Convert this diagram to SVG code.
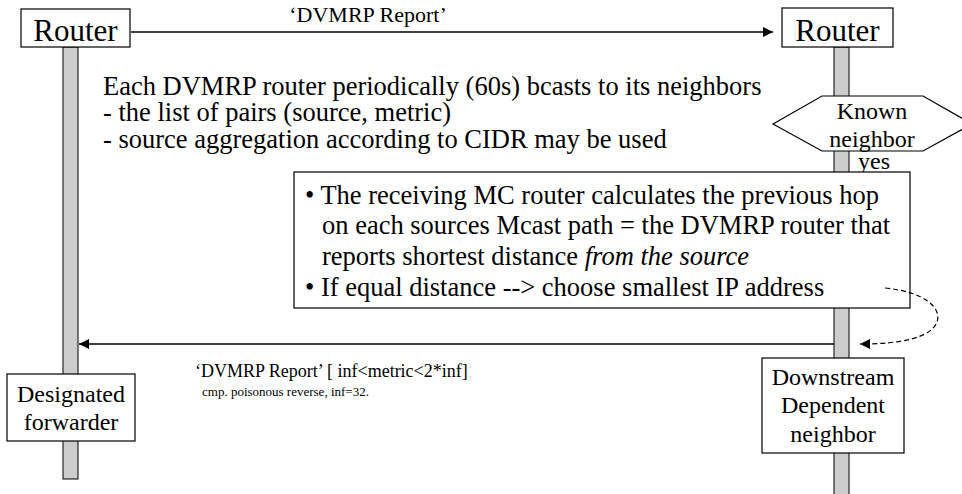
<svg xmlns="http://www.w3.org/2000/svg" width="962" height="494" viewBox="0 0 962 494">
  <style>
    text { font-family: "Liberation Serif", "Times New Roman", serif; fill: #000; }
    .box { fill: #fff; stroke: #000; stroke-width: 1.2; }
    .bar { fill: #cccccc; stroke: #000; stroke-width: 1; }
    .line { stroke: #000; stroke-width: 1.5; fill: none; }
    .dash { stroke: #000; stroke-width: 1.2; fill: none; stroke-dasharray: 5 3; }
  </style>
  <defs>
    <marker id="arrow" viewBox="0 0 10 10" refX="10" refY="5" markerWidth="10" markerHeight="10" markerUnits="userSpaceOnUse" orient="auto">
      <path d="M0,0 L10,5 L0,10 z" fill="#000"/>
    </marker>
  </defs>

  <!-- lifelines -->
  <g id="lifelines">
    <rect class="bar" x="63" y="47" width="15" height="432"/>
    <rect class="bar" x="834" y="47" width="15" height="460"/>
  </g>

  <g id="router-left">
    <rect class="box" x="21" y="9" width="109" height="38"/>
    <text x="75.5" y="41" font-size="31" text-anchor="middle">Router</text>
  </g>

  <g id="router-right">
    <rect class="box" x="782" y="8" width="111" height="39"/>
    <text x="837.5" y="41" font-size="31" text-anchor="middle">Router</text>
  </g>

  <text x="368" y="22" font-size="22" text-anchor="middle">‘DVMRP Report’</text>

  <g id="description">
    <text x="103" y="95" font-size="26.5">Each DVMRP router periodically (60s) bcasts to its neighbors</text>
    <text x="103" y="121" font-size="26.5">- the list of pairs (source, metric)</text>
    <text x="103" y="148" font-size="26.5">- source aggregation according to CIDR may be used</text>
  </g>

  <g id="known-neighbor">
    <polygon class="box" points="773,124 822,96 923,96 972,124 923,151 822,151"/>
    <text x="872" y="119" font-size="24" text-anchor="middle">Known</text>
    <text x="872" y="147" font-size="24" text-anchor="middle">neighbor</text>
    <text x="874" y="169" font-size="24" text-anchor="middle">yes</text>
  </g>

  <g id="previous-hop-note">
    <rect class="box" x="294" y="172" width="616" height="136"/>
    <text x="305" y="204" font-size="26.5">• The receiving MC router calculates the previous hop</text>
    <text x="322" y="234" font-size="26.5">on each sources Mcast path = the DVMRP router that</text>
    <text x="322" y="265" font-size="26.5">reports shortest distance <tspan font-style="italic">from the source</tspan></text>
    <text x="305" y="296" font-size="26.5">• If equal distance --&gt; choose smallest IP address</text>
  </g>

  <g id="report-label">
    <text x="195" y="377" font-size="18">‘DVMRP Report’ [ inf&lt;metric&lt;2*inf]</text>
    <text x="202" y="396" font-size="13">cmp. poisonous reverse, inf=32.</text>
  </g>

  <g id="designated-forwarder">
    <rect class="box" x="7" y="374" width="128" height="67"/>
    <text x="71" y="402" font-size="24" text-anchor="middle">Designated</text>
    <text x="71" y="430" font-size="24" text-anchor="middle">forwarder</text>
  </g>

  <g id="downstream-neighbor">
    <rect class="box" x="762" y="358" width="142" height="95"/>
    <text x="833" y="385" font-size="24" text-anchor="middle">Downstream</text>
    <text x="833" y="413" font-size="24" text-anchor="middle">Dependent</text>
    <text x="833" y="442" font-size="24" text-anchor="middle">neighbor</text>
  </g>

  <!-- connectors -->
  <g id="connectors">
    <line class="line" x1="131" y1="32" x2="773" y2="32" marker-end="url(#arrow)"/>
    <line class="line" x1="834" y1="344" x2="79" y2="344" marker-end="url(#arrow)"/>
    <path class="dash" d="M885,288 C925,292 942,308 937,322 C931,338 900,344 860,344" marker-end="url(#arrow)"/>
  </g>
</svg>
